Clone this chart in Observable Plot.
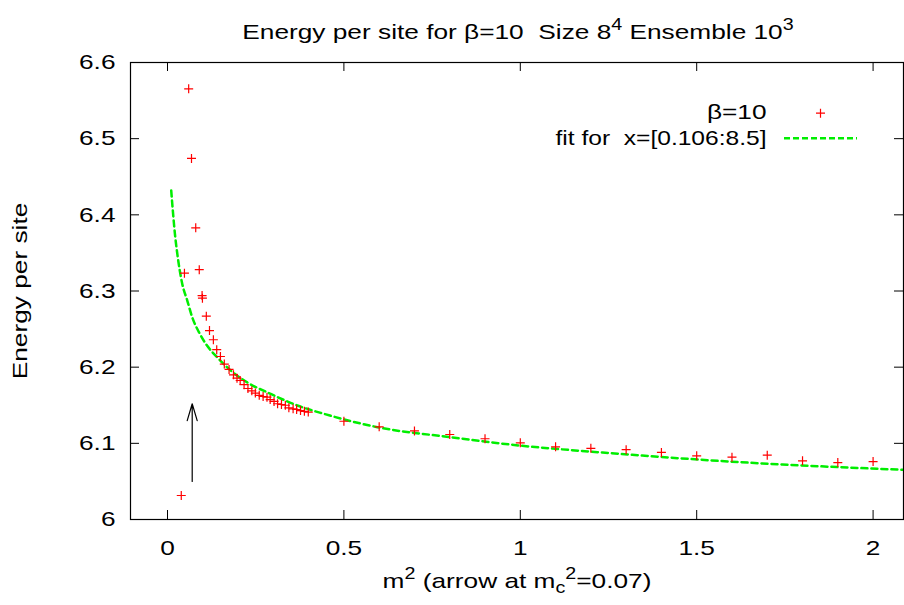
<!DOCTYPE html>
<html>
<head>
<meta charset="utf-8">
<script src="https://cdn.jsdelivr.net/npm/d3@7"></script>
<script src="https://cdn.jsdelivr.net/npm/@observablehq/plot@0.6"></script>
<style>
  body { margin: 0; background: #fff; }
  #wrap { position: relative; width: 904px; height: 605px; font-family: "Liberation Sans", Arial, sans-serif; }
  .ov { position: absolute; white-space: nowrap; font-size: 21px; line-height: 21px; color: #000; }
  .ov sup { font-size: 0.75em; position: relative; top: -0.55em; vertical-align: baseline; line-height: 0; }
  .ov sub { font-size: 0.75em; position: relative; top: 0.3em; vertical-align: baseline; line-height: 0; }
</style>
</head>
<body>
<div id="wrap"></div>
<script>
// ---- data ----
const xTicks = [0, 0.5, 1, 1.5, 2];
const xTickLabels = ["0", "0.5", "1", "1.5", "2"];
const yTicks = [6, 6.1, 6.2, 6.3, 6.4, 6.5, 6.6];
const yTickLabels = ["6", "6.1", "6.2", "6.3", "6.4", "6.5", "6.6"];

// beta = 10 measurements
const m2 = [0.039, 0.048, 0.060, 0.068, 0.080, 0.090, 0.098, 0.099, 0.110, 0.119,
  0.130, 0.1395, 0.150, 0.161, 0.1745, 0.187, 0.197, 0.206, 0.217, 0.228,
  0.239, 0.249, 0.260, 0.271, 0.282, 0.291, 0.302, 0.312, 0.323, 0.334,
  0.344, 0.356, 0.366, 0.377, 0.388, 0.399,
  0.5, 0.6, 0.7, 0.8, 0.9, 1.0, 1.1, 1.2, 1.3, 1.4, 1.5, 1.6, 1.7, 1.8, 1.9, 2.0];
const energy = [6.0315, 6.3234, 6.5655, 6.474, 6.383, 6.328, 6.294, 6.2906, 6.267, 6.248,
  6.236, 6.223, 6.214, 6.204, 6.197, 6.190, 6.1855, 6.1825, 6.177, 6.172,
  6.169, 6.166, 6.163, 6.1615, 6.1606, 6.1575, 6.155, 6.152, 6.151, 6.150,
  6.1466, 6.1453, 6.1444, 6.143, 6.142, 6.141,
  6.129, 6.1217, 6.1163, 6.1116, 6.106, 6.1007, 6.0954, 6.0935, 6.0917, 6.088,
  6.0836, 6.0818, 6.0844, 6.077, 6.0748, 6.076];

// fitted curve, sampled along the drawn line
const fitX = [0.0105, 0.015, 0.021, 0.028, 0.042, 0.056, 0.070, 0.089, 0.1125, 0.141,
  0.179, 0.226, 0.292, 0.368, 0.443, 0.595, 0.803, 1.0, 1.219, 1.625, 2.088];
const fitY = [6.432, 6.406, 6.375, 6.348, 6.309, 6.2875, 6.2656, 6.246, 6.228, 6.213,
  6.1956, 6.180, 6.165, 6.1497, 6.1388, 6.1212, 6.108, 6.097, 6.0884, 6.0752, 6.0652];

const arrowAt = 0.07;
const arrowFrom = 6.05;
const arrowTo = 6.152;

const legendPoints = "β=10";
const legendFit = "fit for\u00a0\u00a0x=[0.106:8.5]";
const yLabel = "Energy per site";

// ---- chart ----
const pts = m2.map((x, i) => ({x, y: energy[i]}));
const fit = fitX.map((x, i) => ({x, y: fitY[i]}));

const W = 904, H = 605, mL = 130, mR = 1, mT = 62, mB = 86;
const plotH = H - mT - mB, plotW = W - mL - mR;
const tickLen = 9;
const red = "#ff0000", green = "#00ee00";

const plus = {draw(ctx, size) { const r = Math.sqrt(size / Math.PI);
  ctx.moveTo(-r, 0); ctx.lineTo(r, 0); ctx.moveTo(0, -r); ctx.lineTo(0, r); }};
const hline = {draw(ctx, size) { const r = Math.sqrt(size / Math.PI);
  ctx.moveTo(-r, 0); ctx.lineTo(r, 0); }};

const chart = Plot.plot({
  width: W, height: H,
  marginLeft: mL, marginRight: mR, marginTop: mT, marginBottom: mB,
  x: {domain: [-0.1049, 2.0862], axis: null},
  y: {domain: [6, 6.6], axis: null},
  style: {fontFamily: "'Liberation Sans', Arial, sans-serif", fontSize: "21px", background: "#fff", color: "#000"},
  marks: [
    Plot.line(fit, {x: "x", y: "y", stroke: green, strokeWidth: 2.5, strokeDasharray: "6,4", curve: "monotone-x"}),
    Plot.dot(pts, {x: "x", y: "y", symbol: plus, r: 4.5, stroke: red, fill: "none", strokeWidth: 1.2}),
    Plot.arrow([{x: arrowAt, y1: arrowFrom, y2: arrowTo}], {x1: "x", x2: "x", y1: "y1", y2: "y2",
      stroke: "#000", strokeWidth: 1.2, headAngle: 33, headLength: 22}),
    Plot.tickX(xTicks, {x: d => d, insetTop: plotH - tickLen, stroke: "#000"}),
    Plot.tickX(xTicks, {x: d => d, insetBottom: plotH - tickLen, stroke: "#000"}),
    Plot.tickY(yTicks, {y: d => d, insetRight: plotW - tickLen, stroke: "#000"}),
    Plot.tickY(yTicks, {y: d => d, insetLeft: plotW - tickLen, stroke: "#000"}),
    Plot.frame({stroke: "#000", strokeWidth: 1.2}),
    Plot.text(xTicks, {x: d => d, text: (d, i) => xTickLabels[i], frameAnchor: "bottom", dy: 29, textAnchor: "middle", lineAnchor: "middle"}),
    Plot.text(yTicks, {y: d => d, text: (d, i) => yTickLabels[i], frameAnchor: "left", dx: -15, textAnchor: "end", lineAnchor: "middle"}),
    Plot.text([yLabel], {text: d => d, frameAnchor: "left", dx: -110, rotate: -90, textAnchor: "middle", lineAnchor: "middle"}),
    Plot.text([legendPoints], {text: d => d, frameAnchor: "top-right", dx: -137, dy: 50, textAnchor: "end", lineAnchor: "middle"}),
    Plot.text([legendFit], {text: d => d, frameAnchor: "top-right", dx: -137, dy: 75.5, textAnchor: "end", lineAnchor: "middle"}),
    Plot.dot([0], {frameAnchor: "top-right", dx: -83, dy: 50.7, symbol: plus, r: 4.5, stroke: red, fill: "none", strokeWidth: 1.2}),
    Plot.dot([0], {frameAnchor: "top-right", dx: -83, dy: 75.7, symbol: hline, r: 36.5, stroke: green, fill: "none", strokeWidth: 2.5, strokeDasharray: "6,3"})
  ]
});

const wrap = document.getElementById("wrap");
wrap.append(chart);

// widen glyphs to match the reference's broad lettering
const S = 1.25;
chart.querySelectorAll("text").forEach(t => {
  const L = t.getComputedTextLength();
  const k = t.textContent.startsWith("fit for") ? 1.17 : S;
  if (L > 0) { t.setAttribute("textLength", (L * k).toFixed(1)); t.setAttribute("lengthAdjust", "spacingAndGlyphs"); }
});

function overlay(html, cx, top) {
  const d = document.createElement("div");
  d.className = "ov";
  d.innerHTML = html;
  d.style.left = cx + "px";
  d.style.top = top + "px";
  d.style.transform = `translateX(-50%) scaleX(${S})`;
  wrap.append(d);
}
overlay("Energy per site for β=10&nbsp; Size 8<sup>4</sup> Ensemble 10<sup>3</sup>", 518, 21);
overlay("m<sup>2</sup> (arrow at m<sub>c</sub><sup>2</sup>=0.07)", 517, 570);
</script>
</body>
</html>
